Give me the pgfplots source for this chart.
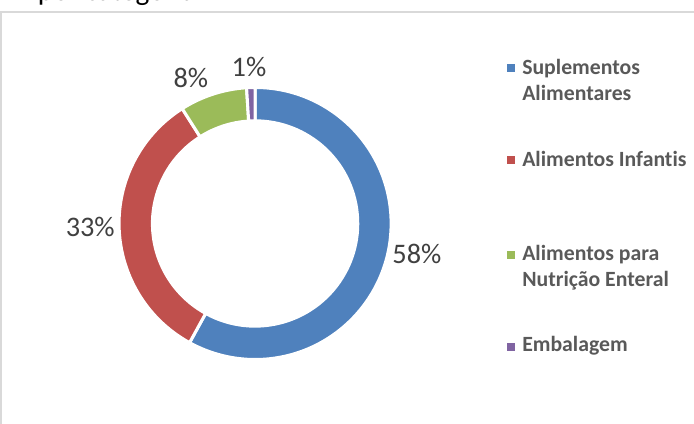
\documentclass[border=0pt]{standalone}
\usepackage{pgfplots}
\pgfplotsset{compat=1.18}
\usepackage{pgfplotstable}
\usepackage{fontspec}
\setmainfont{Carlito}[Ligatures=NoCommon]
\definecolor{c0}{HTML}{4F81BD}
\definecolor{c1}{HTML}{C0504D}
\definecolor{c2}{HTML}{9BBB59}
\definecolor{c3}{HTML}{8064A2}
\definecolor{txt}{HTML}{404040}
\definecolor{legtxt}{HTML}{595959}
\definecolor{framec}{HTML}{D9D9D9}

% value, label position (x, y)
\pgfplotstableread{
value lx ly
58 420 168
33 97 195
8 196.5 341.5
1 254 353
}\piedata

\begin{document}
\begin{tikzpicture}
\begin{axis}[x=1pt,y=1pt,xmin=0,xmax=694,ymin=0,ymax=419,
  hide axis,scale only axis,clip=true,clip mode=global]
% frame
\draw[framec, line width=1.5pt] (axis cs:8.5,-5) -- (axis cs:8.5,407) -- (axis cs:700,407);
% title (cut off at the top, as in the reference)
\node[anchor=base west, text=black, font=\fontsize{29}{34}\selectfont, inner sep=0pt] at (axis cs:45,418.5) {por categoria};
% donut
\pgfplotstablegetrowsof{\piedata}
\pgfmathtruncatemacro\N{\pgfplotsretval-1}
\def\cum{0}
\pgfplotsforeachungrouped \i in {0,...,\N}{%
  \pgfplotstablegetelem{\i}{value}\of\piedata \let\myv\pgfplotsretval
  \pgfplotstablegetelem{\i}{lx}\of\piedata \let\mylx\pgfplotsretval
  \pgfplotstablegetelem{\i}{ly}\of\piedata \let\myly\pgfplotsretval
  \pgfmathsetmacro\aA{90-3.6*\cum}
  \pgfmathsetmacro\aB{90-3.6*(\cum+\myv)}
  \pgfmathsetmacro\xA{260+134.5*cos(\aA)}
  \pgfmathsetmacro\yA{198+134.5*sin(\aA)}
  \pgfmathsetmacro\xB{260+101.5*cos(\aB)}
  \pgfmathsetmacro\yB{198+101.5*sin(\aB)}
  \pgfmathsetmacro\cum{\cum+\myv}
  \edef\temp{\noexpand\fill[c\i, draw=white, line width=3pt] (axis cs:\xA,\yA) arc[start angle=\aA, end angle=\aB, radius=134.5pt] -- (axis cs:\xB,\yB) arc[start angle=\aB, end angle=\aA, radius=101.5pt] -- cycle;
  \noexpand\node[text=txt, font=\noexpand\fontsize{28}{34}\noexpand\selectfont] at (axis cs:\mylx,\myly) {\myv\noexpand\%};}%
  \temp
}
% legend
\fill[c0] (axis cs:509,356) rectangle (axis cs:517,348);
\fill[c1] (axis cs:509,264.5) rectangle (axis cs:517,256.5);
\fill[c2] (axis cs:509,171) rectangle (axis cs:517,163);
\fill[c3] (axis cs:509,80) rectangle (axis cs:517,72);
\begin{scope}[every node/.style={anchor=base west, inner sep=0pt, text=legtxt, font=\bfseries\fontsize{21.5}{26}\selectfont}]
\node at (axis cs:524,345.5) {Suplementos};
\node at (axis cs:524,319.5) {Alimentares};
\node at (axis cs:524,254) {Alimentos Infantis};
\node at (axis cs:524,161) {Alimentos para};
\node at (axis cs:524,136) {Nutrição Enteral};
\node at (axis cs:524,71) {Embalagem};
\end{scope}
\end{axis}
\end{tikzpicture}
\end{document}
